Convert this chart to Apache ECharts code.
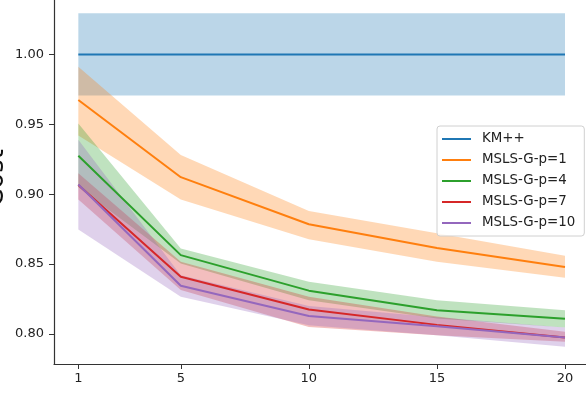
<!DOCTYPE html>
<html>
<head>
<meta charset="utf-8">
<script src="https://cdn.jsdelivr.net/npm/echarts@6/dist/echarts.min.js"></script>
<style>
  html, body { margin: 0; padding: 0; background: #fff; }
  #chart-view { width: 586px; height: 393px; }
</style>
</head>
<body>
<div id="chart-view"></div>
<script>
// data
const xs = [1, 5, 10, 15, 20];
const xTicks = [1, 5, 10, 15, 20];
const yTicks = [0.8, 0.85, 0.9, 0.95, 1.0];

const names = ['KM++', 'MSLS-G-p=1', 'MSLS-G-p=4', 'MSLS-G-p=7', 'MSLS-G-p=10'];
const colors = ['#1f77b4', '#ff7f0e', '#2ca02c', '#d62728', '#9467bd'];

const kmMean = [1.0, 1.0, 1.0, 1.0, 1.0];
const kmLo = [0.9706, 0.9706, 0.9706, 0.9706, 0.9706];
const kmHi = [1.0295, 1.0295, 1.0295, 1.0295, 1.0295];

const p1Mean = [0.9674, 0.9122, 0.8785, 0.8615, 0.848];
const p1Lo = [0.942, 0.8963, 0.8678, 0.8516, 0.8402];
const p1Hi = [0.9913, 0.928, 0.888, 0.872, 0.856];

const p4Mean = [0.9275, 0.8564, 0.831, 0.817, 0.8108];
const p4Lo = [0.905, 0.8505, 0.8242, 0.811, 0.8047];
const p4Hi = [0.9507, 0.8612, 0.8373, 0.8242, 0.817];

const p7Mean = [0.9066, 0.8409, 0.8175, 0.8065, 0.7975];
const p7Lo = [0.8963, 0.8314, 0.805, 0.799, 0.7944];
const p7Hi = [0.915, 0.8516, 0.8266, 0.8125, 0.8015];

const p10Mean = [0.907, 0.8345, 0.8128, 0.8055, 0.7975];
const p10Lo = [0.8748, 0.8266, 0.8063, 0.7991, 0.7908];
const p10Hi = [0.939, 0.842, 0.82, 0.812, 0.8047];

const means = [kmMean, p1Mean, p4Mean, p7Mean, p10Mean];
const los = [kmLo, p1Lo, p4Lo, p7Lo, p10Lo];
const his = [kmHi, p1Hi, p4Hi, p7Hi, p10Hi];

const font = 'DejaVu Sans';
const pairs = (ys) => xs.map((x, i) => [x, ys[i]]);

const series = [];
// confidence bands as one polygon each, drawn through the axes
names.forEach((name, k) => {
  series.push({
    name: name + ' band',
    type: 'custom',
    data: xs.map((x, i) => [x, los[k][i], his[k][i]]),
    encode: { x: 0, y: [1, 2] },
    silent: true,
    z: 1,
    renderItem: (params, api) => {
      if (params.dataIndex !== 0) return null;
      const upper = xs.map((x, i) => api.coord([x, his[k][i]]));
      const lower = xs.map((x, i) => api.coord([x, los[k][i]])).reverse();
      return {
        type: 'polygon',
        shape: { points: upper.concat(lower) },
        style: { fill: colors[k], opacity: 0.3 },
      };
    },
  });
});
names.forEach((name, k) => {
  series.push({
    name,
    type: 'line',
    data: pairs(means[k]),
    symbol: 'none',
    lineStyle: { color: colors[k], width: 2 },
    itemStyle: { color: colors[k] },
    z: 3,
  });
});

const chart = echarts.init(document.getElementById('chart-view'));
chart.setOption({
  animation: false,
  backgroundColor: '#fff',
  grid: { left: 54, right: 0, top: 0, bottom: 29, outerBoundsMode: 'none', containLabel: false },
  xAxis: {
    type: 'value',
    min: 0.05,
    max: 20.82,
    axisLine: { lineStyle: { color: '#333', width: 1.2 } },
    axisTick: { customValues: xTicks, length: 5, lineStyle: { color: '#333' } },
    axisLabel: {
      customValues: xTicks,
      margin: 8,
      color: '#222',
      fontFamily: font,
      fontSize: 13,
    },
    splitLine: { show: false },
  },
  yAxis: {
    type: 'value',
    min: 0.7785,
    max: 1.039,
    name: 'Cost',
    nameLocation: 'middle',
    nameGap: 45,
    nameMoveOverlap: false,
    nameTextStyle: { fontFamily: font, fontSize: 26, color: '#111', padding: [0, 0, 0, 8] },
    axisLine: { show: true, lineStyle: { color: '#333', width: 1.2 } },
    axisTick: { show: true, customValues: yTicks, length: 5, lineStyle: { color: '#333' } },
    axisLabel: {
      customValues: yTicks,
      margin: 10,
      color: '#222',
      fontFamily: font,
      fontSize: 13,
      formatter: (v) => v.toFixed(2),
    },
    splitLine: { show: false },
  },
  legend: {
    data: names.map((n, k) => ({ name: n, icon: 'rect', itemStyle: { color: colors[k] } })),
    orient: 'vertical',
    left: 437,
    top: 126,
    itemWidth: 29,
    itemHeight: 2,
    itemGap: 5,
    padding: [5, 9, 5, 5],
    backgroundColor: 'rgba(255,255,255,0.8)',
    borderColor: '#d0d0d0',
    borderWidth: 1,
    borderRadius: 3,
    textStyle: {
      fontFamily: font,
      fontSize: 13.4,
      color: '#222',
      lineHeight: 16,
      padding: [0, 0, 0, 6],
    },
  },
  series,
});
</script>
</body>
</html>
